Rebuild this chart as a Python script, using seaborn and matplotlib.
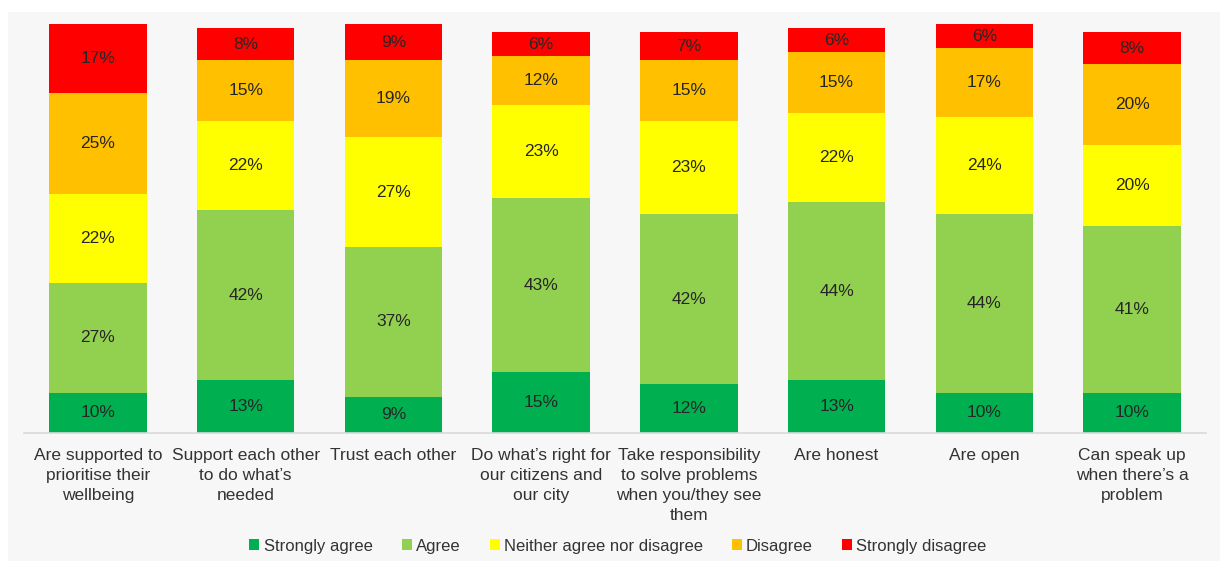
import matplotlib
matplotlib.use("Agg")
import matplotlib.pyplot as plt
from matplotlib.patches import Rectangle, Patch
import numpy as np
import pandas as pd
import seaborn as sns

categories = [
    "Are supported to\nprioritise their\nwellbeing",
    "Support each other\nto do what\u2019s\nneeded",
    "Trust each other",
    "Do what\u2019s right for\nour citizens and\nour city",
    "Take responsibility\nto solve problems\nwhen you/they see\nthem",
    "Are honest",
    "Are open",
    "Can speak up\nwhen there\u2019s a\nproblem",
]

levels = ["Strongly agree", "Agree", "Neither agree nor disagree",
          "Disagree", "Strongly disagree"]

strongly_agree = [10, 13, 9, 15, 12, 13, 10, 10]
agree = [27, 42, 37, 43, 42, 44, 44, 41]
neither = [22, 22, 27, 23, 23, 22, 24, 20]
disagree = [25, 15, 19, 12, 15, 15, 17, 20]
strongly_disagree = [17, 8, 9, 6, 7, 6, 6, 8]

colors = ["#00B050", "#92D050", "#FFFF00", "#FFC000", "#FF0000"]

series = [strongly_agree, agree, neither, disagree, strongly_disagree]
values = np.array(series, dtype=float)
tops = np.cumsum(values, axis=0)
bottoms = tops - values

sns.set_theme(style="white")
plt.rcParams["font.family"] = ["Liberation Sans", "DejaVu Sans"]

W, H = 1224, 561
fig = plt.figure(figsize=(W / 100, H / 100), dpi=100, facecolor="white")

# light grey panel behind the chart
fig.patches.append(Rectangle((8 / W, 0), 1212 / W, 1 - 12 / H,
                             transform=fig.transFigure, facecolor="#F7F7F7",
                             edgecolor="none", zorder=-10))

ax = fig.add_axes([24 / W, 1 - 433 / H, 1182 / W, 405 / H])
ax.set_facecolor("none")

# stacked bars: draw cumulative totals from the top layer downwards
for k in range(len(levels) - 1, -1, -1):
    df = pd.DataFrame({"cat": categories, "top": tops[k]})
    sns.barplot(data=df, x="cat", y="top", order=categories, color=colors[k],
                saturation=1, width=0.66, errorbar=None, ax=ax, zorder=2)

for p in ax.patches:
    p.set_clip_on(False)
    p.set_edgecolor("none")

for k in range(len(levels)):
    for i in range(len(categories)):
        ax.text(i, bottoms[k, i] + values[k, i] / 2, f"{int(values[k, i])}%",
                ha="center", va="center", fontsize=12.5, color="#262626", zorder=3)

ax.set_xlim(-0.5, len(categories) - 0.5)
ax.set_ylim(0, 100)
ax.set_xlabel("")
ax.set_ylabel("")
ax.set_yticks([])
for s in ["top", "right", "left"]:
    ax.spines[s].set_visible(False)
ax.spines["bottom"].set_color("#D9D9D9")
ax.spines["bottom"].set_linewidth(1.2)
ax.tick_params(axis="x", length=0, pad=11, labelsize=12.5, labelcolor="#333333")
for lab in ax.get_xticklabels():
    lab.set_linespacing(1.4)
    lab.set_va("top")

handles = [Patch(facecolor=c, edgecolor="none", label=l) for c, l in zip(colors, levels)]
fig.legend(handles=handles, loc="center", bbox_to_anchor=(618 / W, 1 - 546 / H),
           ncol=5, frameon=False, fontsize=12, handlelength=0.6, handleheight=0.6,
           handletextpad=0.25, columnspacing=1.75, labelcolor="#333333")

fig.savefig("out.png", dpi=100, facecolor="white")
